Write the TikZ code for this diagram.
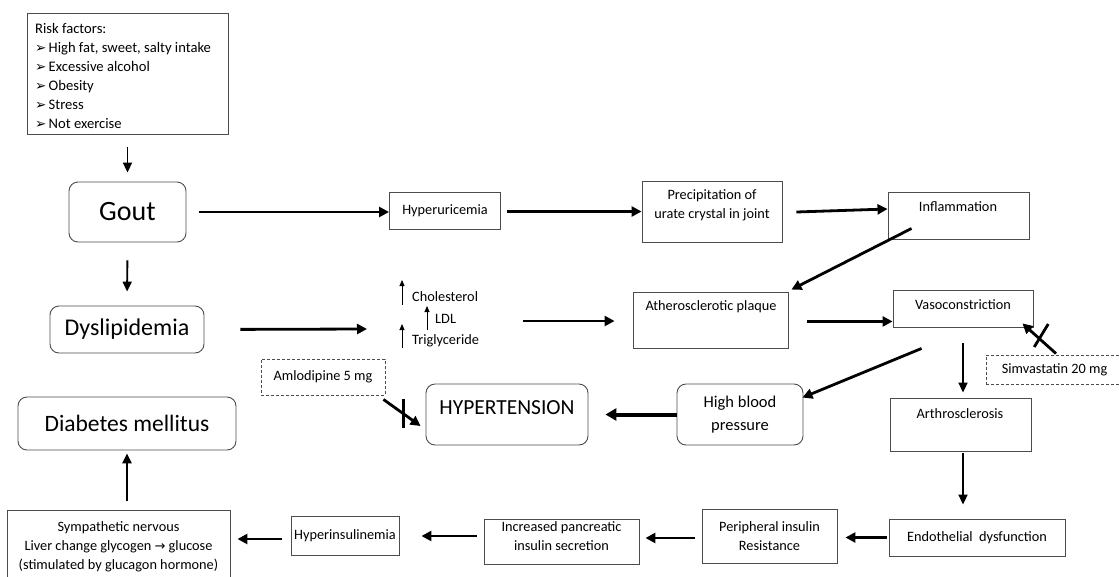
\documentclass[tikz,border=0pt]{standalone}
\usepackage{fontspec}
\setmainfont{Carlito}
\newfontfamily\symfont{DejaVu Sans}
\usetikzlibrary{arrows.meta,calc}
\begin{document}
\begin{tikzpicture}[x=1pt,y=-1pt,
 box/.style={draw=black!70, line width=0.9pt, inner sep=0pt, font=\fontsize{14.3}{19}\selectfont, align=center},
 rbox/.style={box, rounded corners=9pt},
 dbox/.style={box, dash pattern=on 3pt off 2pt},
 txt/.style={inner sep=0pt, font=\fontsize{14.3}{19}\selectfont, align=center},
 arr/.style={-{Triangle[length=10pt,width=10pt]}, line width=2.8pt},
 thinarr/.style={-{Triangle[length=10pt,width=9pt]}, line width=1.9pt},
 uparr/.style={-{Triangle[length=6pt,width=5pt]}, line width=1pt},
 barline/.style={line width=2.8pt}]
\useasboundingbox (0,0) rectangle (1119,576);

% ---- boxes ----
\node[box, minimum width=201pt, minimum height=121pt] (risk) at (127.5,73.5) {};
\node[txt, align=left, anchor=west, font=\fontsize{14.6}{19}\selectfont] (riskT) at (35,75.5) {Risk factors:\\
\makebox[13.5pt][l]{\symfont\fontsize{13.5}{10}\selectfont ➢}High fat, sweet, salty intake\\
\makebox[13.5pt][l]{\symfont\fontsize{13.5}{10}\selectfont ➢}Excessive alcohol\\
\makebox[13.5pt][l]{\symfont\fontsize{13.5}{10}\selectfont ➢}Obesity\\
\makebox[13.5pt][l]{\symfont\fontsize{13.5}{10}\selectfont ➢}Stress\\
\makebox[13.5pt][l]{\symfont\fontsize{13.5}{10}\selectfont ➢}Not exercise};

\node[rbox, minimum width=117pt, minimum height=60pt, font=\fontsize{28}{30}\selectfont] (gout) at (127.5,212) {Gout};
\node[rbox, minimum width=154pt, minimum height=47pt, font=\fontsize{24}{26}\selectfont] (dys) at (127,329.5) {Dyslipidemia};
\node[rbox, minimum width=218pt, minimum height=53pt, font=\fontsize{23.5}{26}\selectfont] (diab) at (127,423.5) {Diabetes mellitus};

\node[box, minimum width=111pt, minimum height=37pt] (hyperu) at (445,210.5) {Hyperuricemia};
\node[box, minimum width=140pt, minimum height=61pt] (precip) at (712,211.5) {};
\node[txt] (precipT) at (712,205.5) {Precipitation of\\urate crystal in joint};
\node[box, minimum width=141pt, minimum height=47pt] (inflam) at (958.5,215.5) {};
\node[txt] (inflamT) at (958,207) {Inflammation};

\node[txt, anchor=west] (chol) at (412,297) {Cholesterol};
\node[txt, anchor=west] (ldl) at (435,319) {LDL};
\node[txt, anchor=west] (trig) at (412,341) {Triglyceride};
\coordinate (lipIn) at (367,329);
\coordinate (lipOut) at (523,321);

\node[box, minimum width=155pt, minimum height=56pt] (athero) at (710.5,320) {};
\node[txt] (atheroT) at (711,307) {Atherosclerotic plaque};
\node[box, minimum width=140pt, minimum height=37pt] (vaso) at (963,308.5) {};
\node[txt] (vasoT) at (963,305) {Vasoconstriction};
\node[dbox, minimum width=137pt, minimum height=29pt] (simva) at (1054.5,369.5) {Simvastatin 20 mg};
\node[box, minimum width=141pt, minimum height=53pt] (arthro) at (960.5,424.5) {};
\node[txt] (arthroT) at (960,414) {Arthrosclerosis};

\node[dbox, minimum width=124pt, minimum height=36pt] (amlo) at (323,377) {Amlodipine 5 mg};
\node[rbox, minimum width=162pt, minimum height=61pt] (hyper) at (507,414.5) {};
\node[txt, font=\fontsize{21.5}{24}\selectfont] (hyperT) at (507,408) {HYPERTENSION};
\node[rbox, minimum width=126pt, minimum height=61pt, font=\fontsize{16.5}{23}\selectfont] (hbp) at (740,414.5) {High blood\\pressure};

\node[box, minimum width=176pt, minimum height=37pt] (endo) at (977,537.5) {Endothelial\ \ dysfunction};
\node[box, minimum width=135pt, minimum height=54pt] (periph) at (769.5,536) {Peripheral insulin\\Resistance};
\node[box, minimum width=155pt, minimum height=45pt] (incr) at (561.5,541.5) {};
\node[txt] (incrT) at (561.5,536) {Increased pancreatic\\insulin secretion};
\node[box, minimum width=108pt, minimum height=39pt] (hyperins) at (345,535.5) {Hyperinsulinemia};
\node[box, minimum width=223pt, minimum height=74pt] (symp) at (118.5,547) {Sympathetic nervous\\Liver change glycogen {\symfont\fontsize{13}{13}\selectfont →} glucose\\(stimulated by glucagon hormone)};

% ---- connectors ----
\draw[thinarr, shorten <=13pt, shorten >=9pt] (risk.south) -- (gout.north);
\draw[thinarr, shorten <=18pt, shorten >=14pt] (gout.south) -- (dys.north);
\draw[arr, shorten <=13pt] (gout.east) -- (gout.east -| hyperu.west);
\draw[arr, shorten <=6pt] (hyperu.east |- precip.west) -- (precip.west);
\draw[arr] ($(precip.east)+(14,0.5)$) -- ($(inflam.west)+(0,-6.5)$);
\draw[arr] ($(inflam.south west)+(24,-11)$) -- ($(athero.north east)+(3,-2)$);

\draw[arr, shorten <=36pt] (dys.east) -- (lipIn);
\draw[uparr] ($(chol.west)+(-10,8)$) -- ($(chol.west)+(-10,-17)$);
\draw[uparr] ($(ldl.west)+(-8,11)$) -- ($(ldl.west)+(-8,-13)$);
\draw[uparr] ($(trig.west)+(-10,7)$) -- ($(trig.west)+(-10,-17)$);
\draw[arr] (lipOut) -- ($(athero.west)+(-18,1)$);

\coordinate (avS) at ($(athero.east |- vaso.south west)+(19,-6)$);
\draw[arr] (avS) -- ($(vaso.south west)+(0,-6)$);
\draw[thinarr, shorten <=16pt, shorten >=5pt] (vaso.south) -- (vaso.south |- arthro.north);
\draw[arr] ($(vaso.south west)+(29,21)$) -- ($(hbp.north east)+(-1,14)$);
\draw[line width=4pt, -{Triangle[length=11pt,width=12pt]}, shorten >=17pt] (hbp.west) -- (hyper.east);

\coordinate (amS) at ($(amlo.south east)+(-2,4)$);
\coordinate (amE) at ($(hyper.west)+(-5,11.5)$);
\draw[arr] (amS) -- (amE);
\coordinate (amM) at ($(amS)!0.5!(amE)$);
\draw[barline] ($(amM)+(1.5,-14)$) -- ($(amM)+(1.5,15)$);

\coordinate (svS) at ($(simva.north)+(1.5,-1)$);
\coordinate (svE) at ($(vaso.south east)+(-11,-4)$);
\draw[arr] (svS) -- (svE);
\coordinate (svM) at ($(svS)!0.5!(svE)$);
\draw[barline] ($(svM)+(9,-14.5)$) -- ($(svM)+(-5,8.5)$);

\draw[thinarr, shorten <=2pt, shorten >=14pt] (arthro.south -| vaso.south) -- (endo.north -| vaso.south);
\draw[arr, shorten <=2pt, shorten >=8pt] (endo.west) -- (endo.west -| periph.east);
\draw[arr, shorten <=7pt, shorten >=6pt] (periph.west |- 0,538) -- (incr.east |- 0,538);
\draw[arr, shorten <=7pt, shorten >=22pt] (incr.west |- 0,536) -- (hyperins.east |- 0,536);
\draw[arr, shorten <=9pt, shorten >=7pt] (hyperins.west |- 0,539) -- (symp.east |- 0,539);
\draw[line width=2.4pt, -{Triangle[length=10pt,width=9pt]}, shorten <=9pt, shorten >=3pt] (symp.north -| diab.south) -- (diab.south);
\end{tikzpicture}
\end{document}
